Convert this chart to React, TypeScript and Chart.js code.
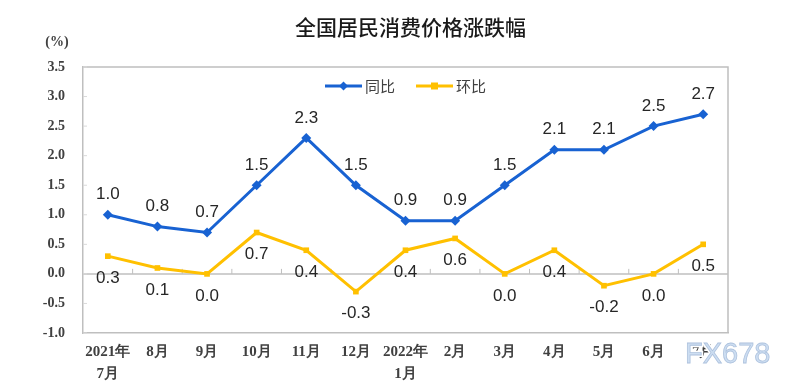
import React, { useEffect, useRef } from 'react';
import { Chart, registerables } from 'chart.js';
Chart.register(...registerables);

const categories: (string | string[])[] = [
  ['2021年', '7月'], '8月', '9月', '10月', '11月', '12月',
  ['2022年', '1月'], '2月', '3月', '4月', '5月', '6月', '7月',
];
const yoyValues = [1.0, 0.8, 0.7, 1.5, 2.3, 1.5, 0.9, 0.9, 1.5, 2.1, 2.1, 2.5, 2.7];
const momValues = [0.3, 0.1, 0.0, 0.7, 0.4, -0.3, 0.4, 0.6, 0.0, 0.4, -0.2, 0.0, 0.5];
const yMin = -1.0;
const yMax = 3.5;
const yStep = 0.5;
const seriesNames = ['同比', '环比'];
const titleText = '全国居民消费价格涨跌幅';
const unitText = '(%)';
const watermarkText = 'FX678';

const BLUE = '#1862D2';
const YELLOW = '#FFC000';
const AXIS = '#BFBFBF';
const LABEL_FONT = '17px "Liberation Sans", Arial, sans-serif';

const decorPlugin = {
  id: 'decor',
  beforeDatasetsDraw(chart: any) {
    const { ctx, chartArea, scales } = chart;
    const x = scales.x;
    const y = scales.y;
    ctx.save();
    ctx.strokeStyle = AXIS;
    ctx.lineWidth = 1.5;
    ctx.beginPath();
    ctx.moveTo(chartArea.left, chartArea.top);
    ctx.lineTo(chartArea.right, chartArea.top);
    ctx.lineTo(chartArea.right, chartArea.bottom);
    ctx.stroke();
    const y0 = y.getPixelForValue(0);
    ctx.beginPath();
    ctx.moveTo(chartArea.left, y0);
    ctx.lineTo(chartArea.right, y0);
    ctx.stroke();
    ctx.lineWidth = 1;
    for (let i = 1; i < categories.length; i++) {
      const bx = (x.getPixelForValue(i - 1) + x.getPixelForValue(i)) / 2;
      ctx.beginPath();
      ctx.moveTo(bx, y0);
      ctx.lineTo(bx, y0 - 5);
      ctx.stroke();
    }
    ctx.strokeStyle = '#D9D9D9';
    for (let v = yMin; v <= yMax + 1e-9; v += yStep) {
      const py = y.getPixelForValue(v);
      ctx.beginPath();
      ctx.moveTo(chartArea.left, py);
      ctx.lineTo(chartArea.left + 4, py);
      ctx.stroke();
    }
    ctx.restore();
  },
  afterDraw(chart: any) {
    const { ctx, chartArea } = chart;
    ctx.save();
    ctx.font = LABEL_FONT;
    ctx.fillStyle = '#262626';
    ctx.textAlign = 'center';
    ctx.textBaseline = 'middle';
    const m0 = chart.getDatasetMeta(0);
    m0.data.forEach((pt: any, i: number) => {
      ctx.fillText(yoyValues[i].toFixed(1), pt.x, pt.y - 20);
    });
    const m1 = chart.getDatasetMeta(1);
    m1.data.forEach((pt: any, i: number) => {
      ctx.fillText(momValues[i].toFixed(1), pt.x, pt.y + 22);
    });

    ctx.font = '500 21px "Noto Sans CJK SC", sans-serif';
    ctx.fillStyle = '#1a1a1a';
    ctx.fillText(titleText, (chartArea.left + chartArea.right) / 2 + 5, 27);

    ctx.font = 'bold 14px "Liberation Serif", "Times New Roman", serif';
    ctx.fillStyle = '#404040';
    ctx.fillText(unitText, 57, 42);

    const legendY = chartArea.top + 19;
    const items = [
      { x: chartArea.left + 242, color: BLUE, style: 'diamond', text: seriesNames[0] },
      { x: chartArea.left + 333, color: YELLOW, style: 'square', text: seriesNames[1] },
    ];
    items.forEach((it) => {
      ctx.strokeStyle = it.color;
      ctx.fillStyle = it.color;
      ctx.lineWidth = 3;
      ctx.beginPath();
      ctx.moveTo(it.x, legendY);
      ctx.lineTo(it.x + 37, legendY);
      ctx.stroke();
      const cx = it.x + 18.5;
      ctx.beginPath();
      if (it.style === 'diamond') {
        ctx.moveTo(cx, legendY - 4.5);
        ctx.lineTo(cx + 4.5, legendY);
        ctx.lineTo(cx, legendY + 4.5);
        ctx.lineTo(cx - 4.5, legendY);
        ctx.closePath();
      } else {
        ctx.rect(cx - 3.5, legendY - 3.5, 7, 7);
      }
      ctx.fill();
      ctx.font = '15px "Noto Sans CJK SC", sans-serif';
      ctx.fillStyle = '#404040';
      ctx.textAlign = 'left';
      ctx.fillText(it.text, it.x + 40, legendY);
    });

    ctx.font = '29px "Liberation Sans", Arial, sans-serif';
    ctx.textAlign = 'left';
    ctx.textBaseline = 'middle';
    ctx.lineWidth = 4;
    ctx.strokeStyle = '#ffffff';
    ctx.strokeText(watermarkText, 685, 355);
    ctx.fillStyle = 'rgb(205,222,242)';
    ctx.fillText(watermarkText, 685, 355);
    ctx.lineWidth = 0.8;
    ctx.strokeStyle = 'rgb(175,195,222)';
    ctx.strokeText(watermarkText, 685, 355);
    ctx.restore();
  },
};

export default function App() {
  const ref = useRef<HTMLCanvasElement>(null);
  useEffect(() => {
    if (!ref.current) return;
    const chart = new Chart(ref.current, {
      type: 'line',
      data: {
        labels: categories,
        datasets: [
          {
            label: seriesNames[0],
            data: yoyValues,
            borderColor: BLUE,
            backgroundColor: BLUE,
            borderWidth: 3,
            pointStyle: 'rectRot',
            pointRadius: 5,
            pointBorderWidth: 0,
            tension: 0,
          },
          {
            label: seriesNames[1],
            data: momValues,
            borderColor: YELLOW,
            backgroundColor: YELLOW,
            borderWidth: 3,
            pointStyle: 'rect',
            pointRadius: 4,
            pointBorderWidth: 0,
            tension: 0,
          },
        ],
      },
      options: {
        animation: false,
        responsive: true,
        maintainAspectRatio: false,
        layout: { padding: { top: 67, right: 72, left: 0, bottom: 0 } },
        plugins: {
          legend: { display: false },
          title: { display: false },
          tooltip: { enabled: false },
        },
        scales: {
          x: {
            offset: true,
            grid: { display: false, drawTicks: false },
            border: { display: true, color: AXIS, width: 1.5 },
            ticks: {
              autoSkip: false,
              maxRotation: 0,
              padding: 8,
              color: '#404040',
              font: { family: '"Liberation Serif", "Times New Roman", serif', size: 15, weight: 'bold', lineHeight: 1.45 },
            },
            afterFit: (s: any) => { s.height = 54; },
          },
          y: {
            min: yMin,
            max: yMax,
            grid: { display: false, drawTicks: false },
            border: { display: true, color: AXIS, width: 1.5 },
            ticks: {
              stepSize: yStep,
              padding: 18,
              color: '#404040',
              font: { family: '"Liberation Serif", "Times New Roman", serif', size: 14, weight: 'bold' },
              callback: (v: any) => Number(v).toFixed(1),
            },
            afterFit: (s: any) => { s.width = 83; },
          },
        },
      },
      plugins: [decorPlugin],
    });
    return () => chart.destroy();
  }, []);
  return (
    <div style={{ position: 'fixed', left: 0, top: 0, width: 800, height: 387, background: '#fff' }}>
      <canvas ref={ref} />
    </div>
  );
}
